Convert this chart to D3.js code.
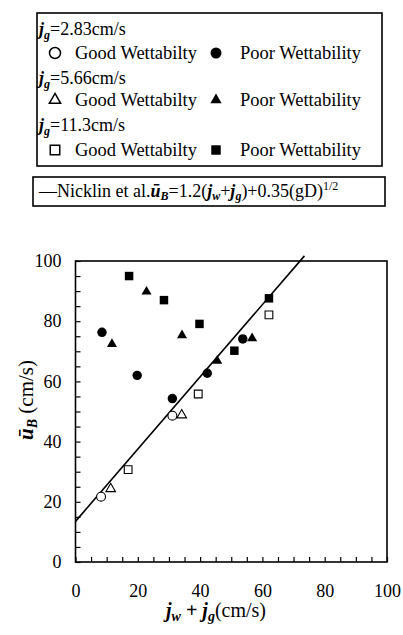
<!DOCTYPE html>
<html>
<head>
<meta charset="utf-8">
<script src="https://cdn.jsdelivr.net/npm/d3@7"></script>
<style>
  body { margin: 0; background: #fff; }
  svg text { font-family: "Liberation Serif", "Times New Roman", Times, "DejaVu Serif", "Noto Serif", serif !important; fill: #000; }
</style>
</head>
<body>
<script>
// data: [jw+jg, uB]
const good283 = [[8.2, 21.7], [31.1, 48.6]];
const poor283 = [[8.5, 76.3], [19.8, 62.0], [31.1, 54.3], [42.3, 62.7], [53.7, 74.1]];
const good566 = [[11.3, 24.3], [34.1, 48.8]];
const poor566 = [[11.7, 72.4], [22.8, 89.8], [34.2, 75.3], [45.5, 66.8], [56.7, 74.3]];
const good113 = [[16.9, 30.7], [39.4, 55.8], [62.1, 82.1]];
const poor113 = [[17.2, 95.0], [28.4, 87.0], [39.8, 79.1], [51.0, 70.2], [62.1, 87.6]];

// Nicklin et al. correlation, ends of the drawn line
const nicklin = [[0, 13.5], [73.5, 101.7]];

const jgLabels = ["2.83", "5.66", "11.3"];
const xTicks = [0, 20, 40, 60, 80, 100];
const yTicks = [0, 20, 40, 60, 80, 100];
const minorTicks = d3.range(0, 101, 5);

const W = 403, H = 635;
const SERIF = '"Liberation Serif", "Times New Roman", Times, "DejaVu Serif", serif';

const svg = d3.select("body").append("svg")
    .attr("width", W)
    .attr("height", H)
    .attr("font-family", SERIF);

// scales
const x = d3.scaleLinear().domain([0, 100]).range([75.5, 387]);
const y = d3.scaleLinear().domain([0, 100]).range([562, 261]);

//***** legend box
svg.append("rect")
    .attr("x", 37).attr("y", 13)
    .attr("width", 345).attr("height", 153)
    .attr("fill", "none").attr("stroke", "#000").attr("stroke-width", 1.6);

const shapes = [d3.symbolCircle, d3.symbolTriangle, d3.symbolSquare];
const legSizes = [95, 55, 90];
const headY = [35, 84, 131];
const rowY = [59, 106, 156];

jgLabels.forEach((lab, i) => {
    const t = svg.append("text")
        .attr("x", 39).attr("y", headY[i])
        .style("font-size", "18px");
    t.append("tspan").text("j").style("font-style", "italic").style("font-weight", "bold");
    t.append("tspan").text("g").style("font-style", "italic").style("font-weight", "bold")
        .style("font-size", "12px").attr("dy", 4);
    t.append("tspan").text("=" + lab + "cm/s").attr("dy", -4);

    const sym = d3.symbol().type(shapes[i]).size(legSizes[i]);
    svg.append("path")
        .attr("d", sym)
        .attr("transform", `translate(55,${rowY[i] - 6})`)
        .attr("fill", "none").attr("stroke", "#000").attr("stroke-width", 1.5);
    svg.append("text")
        .attr("x", 75).attr("y", rowY[i])
        .style("font-size", "18.5px")
        .text("Good Wettabilty");
    svg.append("path")
        .attr("d", sym)
        .attr("transform", `translate(216,${rowY[i] - 6})`)
        .attr("fill", "#000");
    svg.append("text")
        .attr("x", 240).attr("y", rowY[i])
        .style("font-size", "18.5px")
        .text("Poor Wettability");
});

//***** formula box
svg.append("rect")
    .attr("x", 33).attr("y", 177)
    .attr("width", 352).attr("height", 29)
    .attr("fill", "none").attr("stroke", "#000").attr("stroke-width", 1.6);

const f = svg.append("text")
    .attr("x", 39).attr("y", 197)
    .style("font-size", "18px");
f.append("tspan").text("\u2014Nicklin et al.");
f.append("tspan").text("\u016B").style("font-style", "italic").style("font-weight", "bold");
f.append("tspan").text("B").style("font-style", "italic").style("font-weight", "bold")
    .style("font-size", "12px").attr("dy", 3);
f.append("tspan").text("=1.2(").attr("dy", -3);
f.append("tspan").text("j").style("font-style", "italic").style("font-weight", "bold");
f.append("tspan").text("w").style("font-style", "italic").style("font-weight", "bold")
    .style("font-size", "12px").attr("dy", 3);
f.append("tspan").text("+").attr("dy", -3);
f.append("tspan").text("j").style("font-style", "italic").style("font-weight", "bold");
f.append("tspan").text("g").style("font-style", "italic").style("font-weight", "bold")
    .style("font-size", "12px").attr("dy", 3);
f.append("tspan").text(")+0.35(gD)").attr("dy", -3);
f.append("tspan").text("1/2").style("font-size", "12px").attr("dy", -7);

//***** axes
// minor ticks, pointing inward
svg.append("g")
    .attr("transform", `translate(0,${y(0)})`)
    .call(d3.axisBottom(x).tickValues(minorTicks).tickSize(-5).tickFormat(""))
    .call(g => g.select(".domain").remove())
    .call(g => g.selectAll("line").attr("stroke-width", 1.2));
svg.append("g")
    .attr("transform", `translate(${x(0)},0)`)
    .call(d3.axisLeft(y).tickValues(minorTicks).tickSize(-5).tickFormat(""))
    .call(g => g.select(".domain").remove())
    .call(g => g.selectAll("line").attr("stroke-width", 1.2));

// tick labels
svg.append("g")
    .attr("transform", `translate(0,${y(0)})`)
    .call(d3.axisBottom(x).tickValues(xTicks).tickSize(0).tickPadding(22).tickFormat(d3.format("d")))
    .attr("font-family", SERIF).attr("font-size", 18)
    .call(g => g.select(".domain").remove());
svg.append("g")
    .attr("transform", `translate(${x(0)},0)`)
    .call(d3.axisLeft(y).tickValues(yTicks).tickSize(0).tickPadding(14).tickFormat(d3.format("d")))
    .attr("font-family", SERIF).attr("font-size", 18)
    .call(g => g.select(".domain").remove());

// frame
svg.append("rect")
    .attr("x", x(0)).attr("y", y(100))
    .attr("width", x(100) - x(0)).attr("height", y(0) - y(100))
    .attr("fill", "none").attr("stroke", "#000").attr("stroke-width", 1.6);

// axis titles
const xt = svg.append("text")
    .attr("x", 216).attr("y", 617)
    .attr("text-anchor", "middle")
    .style("font-size", "20px");
xt.append("tspan").text("j").style("font-style", "italic").style("font-weight", "bold");
xt.append("tspan").text("w").style("font-style", "italic").style("font-weight", "bold")
    .style("font-size", "14px").attr("dy", 4);
xt.append("tspan").text(" + ").style("font-weight", "bold").attr("dy", -4);
xt.append("tspan").text("j").style("font-style", "italic").style("font-weight", "bold");
xt.append("tspan").text("g").style("font-style", "italic").style("font-weight", "bold")
    .style("font-size", "14px").attr("dy", 4);
xt.append("tspan").text("(cm/s)").attr("dy", -4);

const yt = svg.append("text")
    .attr("transform", "translate(33,400) rotate(-90)")
    .attr("text-anchor", "middle")
    .style("font-size", "21px");
yt.append("tspan").text("\u016B").style("font-style", "italic").style("font-weight", "bold");
yt.append("tspan").text("B").style("font-style", "italic").style("font-weight", "bold")
    .style("font-size", "14px").attr("dy", 4);
yt.append("tspan").text(" (cm/s)").attr("dy", -4);

//***** data
svg.append("path")
    .datum(nicklin)
    .attr("fill", "none")
    .attr("stroke", "#000")
    .attr("stroke-width", 1.6)
    .attr("d", d3.line().x(d => x(d[0])).y(d => y(d[1])));

const series = [
    {data: good283, shape: d3.symbolCircle, size: 62, filled: false},
    {data: poor283, shape: d3.symbolCircle, size: 70, filled: true},
    {data: good566, shape: d3.symbolTriangle, size: 40, filled: false},
    {data: poor566, shape: d3.symbolTriangle, size: 44, filled: true},
    {data: good113, shape: d3.symbolSquare, size: 60, filled: false},
    {data: poor113, shape: d3.symbolSquare, size: 72, filled: true}
];

series.forEach(s => {
    svg.append("g").selectAll("path")
        .data(s.data)
        .join("path")
        .attr("d", d3.symbol().type(s.shape).size(s.size))
        .attr("transform", d => `translate(${x(d[0])},${y(d[1])})`)
        .attr("fill", s.filled ? "#000" : "#fff")
        .attr("stroke", "#000")
        .attr("stroke-width", s.filled ? 0 : 1.1);
});
</script>
</body>
</html>
